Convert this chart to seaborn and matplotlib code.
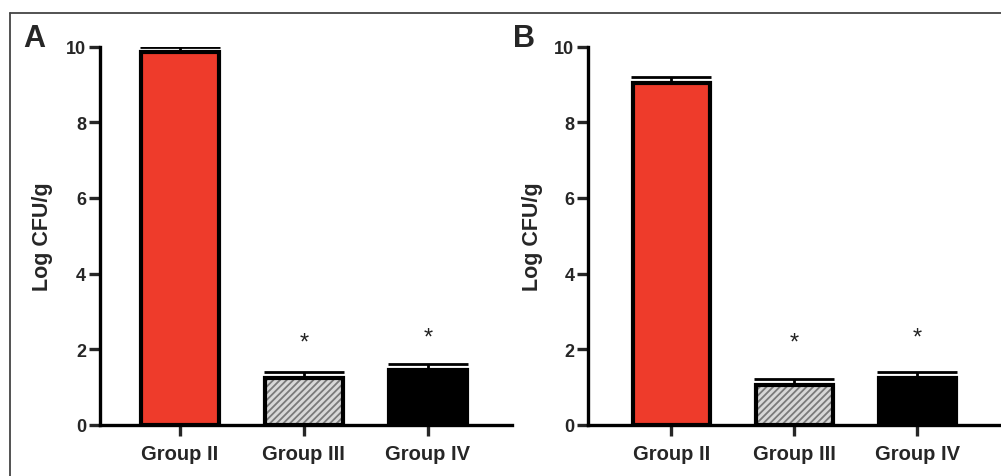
import pandas as pd
import seaborn as sns
import matplotlib.pyplot as plt
from matplotlib.lines import Line2D

# values
groups = ["Group II", "Group III", "Group IV"]
means_a = [9.85, 1.23, 1.45]
errs_a = [0.15, 0.17, 0.16]
means_b = [9.04, 1.04, 1.23]
errs_b = [0.17, 0.17, 0.17]
star_y = [None, 2.18, 2.30]

bar_colors = ["#EE3B2B", "#D8D8D8", "#000000"]

sns.set_theme(style="ticks")
plt.rcParams["font.family"] = ["Liberation Sans", "DejaVu Sans"]
plt.rcParams["hatch.linewidth"] = 1.3

fig = plt.figure(figsize=(10.01, 4.77), dpi=100)
ax_a = fig.add_axes([0.0999, 0.1075, 0.4116, 0.7925])
ax_b = fig.add_axes([0.5877, 0.1075, 0.4123, 0.7925])


def panel(ax, means, errs, xlim):
    df = pd.DataFrame({"group": groups, "value": means})
    sns.barplot(data=df, x="group", y="value", hue="group", palette=bar_colors,
                saturation=1, width=0.63, linewidth=0, legend=False, ax=ax)
    # hatch on the middle bar
    hp = ax.patches[1]
    hp.set_hatch("/////")
    hp.set_edgecolor("#7a7a7a")
    # black outlines drawn on top
    sns.barplot(data=df, x="group", y="value", color="black", fill=False,
                width=0.63, linewidth=3, ax=ax)
    ax.errorbar(range(len(groups)), means, yerr=[[0] * len(errs), errs],
                fmt="none", ecolor="black", elinewidth=2, capsize=29,
                capthick=2, zorder=3)
    for i, s in enumerate(star_y):
        if s is not None:
            ax.text(i, s, "*", ha="center", va="center", fontsize=17,
                    color="#222222")
    ax.set_ylim(0, 10)
    ax.set_xlim(*xlim)
    ax.set_yticks([0, 2, 4, 6, 8, 10])
    ax.set_xlabel("")
    ax.set_ylabel("Log CFU/g", fontsize=15.5, fontweight="bold")
    for lab in ax.get_xticklabels() + ax.get_yticklabels():
        lab.set_fontweight("bold")
    ax.tick_params(axis="x", length=8, width=2.4, labelsize=14.5, pad=6)
    ax.tick_params(axis="y", length=8, width=2.4, labelsize=13, pad=2)
    sns.despine(ax=ax)
    for sp in ("left", "bottom"):
        ax.spines[sp].set_linewidth(2.4)
        ax.spines[sp].set_color("black")
    ax.patch.set_alpha(0)


panel(ax_a, means_a, errs_a, (-0.645, 2.68))
panel(ax_b, means_b, errs_b, (-0.675, 2.68))
ax_a.yaxis.set_label_coords(-0.115, 0.5)
ax_b.yaxis.set_label_coords(-0.11, 0.5)

fig.text(23 / 1001, 1 - 47 / 477, "A", fontsize=22, fontweight="bold",
         va="baseline")
fig.text(513 / 1001, 1 - 47 / 477, "B", fontsize=22, fontweight="bold",
         va="baseline")

# outer frame of the figure
fig.add_artist(Line2D([9.5 / 1001, 1], [1 - 14 / 477] * 2, color="#444444",
                      lw=1.3, transform=fig.transFigure))
fig.add_artist(Line2D([9.5 / 1001] * 2, [0, 1 - 14 / 477], color="#444444",
                      lw=1.3, transform=fig.transFigure))

fig.savefig("out.png", dpi=100)
